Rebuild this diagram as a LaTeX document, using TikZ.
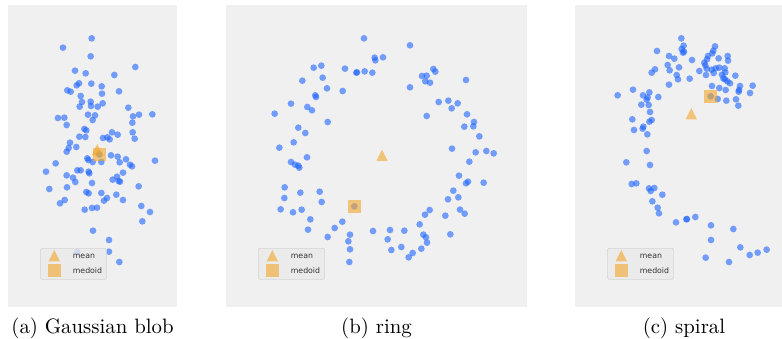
\documentclass[tikz,border=0pt]{standalone}
\usepackage{fontspec}
\newfontfamily\legfont{DejaVu Sans}
\definecolor{bg}{RGB}{240,240,240}
\definecolor{dotblue}{RGB}{30,100,255}
\definecolor{cenorange}{RGB}{242,165,40}
\definecolor{legfill}{RGB}{234,234,234}
\definecolor{legedge}{RGB}{212,212,212}
\tikzset{
  panelbg/.style={fill=bg},
  dotmark/.style={fill=dotblue, fill opacity=0.6},
  centremark/.style={fill=cenorange, fill opacity=0.6},
  legbox/.style={fill=legfill, fill opacity=0.8, draw=legedge, line width=0.6pt, rounded corners=1.5pt},
  legtext/.style={font=\legfont\fontsize{7.8}{9}\selectfont, text=black!80, anchor=west, inner sep=0pt},
  captext/.style={font=\fontsize{10}{12}\selectfont, scale=2.08, transform shape, anchor=base, inner sep=0pt},
  panelscope/.style={x=0.333333pt, y=-0.333333pt}
}
\newcommand{\drawdots}[1]{%
  \foreach \px/\py in {#1} {\fill[dotmark] (\px,\py) circle (3.35pt);}%
}
\newcommand{\drawcentres}[4]{% mean x,y ; medoid x,y
  \fill[centremark] (#1,#2-17) -- (#1+17,#2+17) -- (#1-17,#2+17) -- cycle;
  \fill[centremark] (#3-20,#4-20) rectangle (#3+20,#4+20);
}
\newcommand{\drawlegend}[2]{% panel left, name prefix
  \path[legbox] (#1+97,745) rectangle (#1+296,838);
  \fill[centremark] (#1+139,750) -- (#1+156,784) -- (#1+122,784) -- cycle;
  \fill[centremark] (#1+120,792) rectangle (#1+159,830);
  \node[legtext] (#2mean) at (#1+194,768) {mean};
  \node[legtext] (#2medoid) at (#1+194,812) {medoid};
}
\begin{document}
\begin{tikzpicture}[x=1pt,y=-1pt]
\useasboundingbox (0,0) rectangle (782,339);
% ---------- panel (a)
\begin{scope}[panelscope]
  \fill[panelbg] (24,15) rectangle (530,922);
  \drawdots{275/115, 189/143, 272/169, 406/201, 225/212, 257/220, 343/225, 237/250, 230/256, 274/251, 305/259, 202/271, 212/275, 357/274, 306/281, 242/288, 246/306, 272/305, 308/310, 239/320, 273/318, 293/320, 385/323, 264/344, 285/346, 278/360, 399/349, 417/344, 457/343, 174/354, 193/353, 200/375, 397/368, 253/387, 259/391, 336/397, 398/397, 238/410, 256/411, 309/414, 322/412, 329/418, 353/404, 404/416, 210/428, 206/444, 200/455, 229/441, 298/463, 262/475, 265/480, 278/486, 304/486, 333/466, 353/470, 359/487, 378/478, 390/494, 396/499, 465/482, 167/490, 138/515, 200/526, 219/533, 226/546, 232/511, 242/511, 266/515, 268/520, 276/549, 338/539, 351/530, 356/543, 360/545, 369/518, 416/559, 148/567, 201/562, 259/576, 266/580, 304/579, 321/594, 312/602, 349/584, 369/600, 180/610, 194/600, 254/629, 276/624, 291/623, 424/618, 450/636, 427/664, 279/692, 327/720, 327/755, 358/786, 232/756}
  \drawcentres{292}{449}{298}{463}
  \drawlegend{24}{a}
\end{scope}
% ---------- panel (b)
\begin{scope}[shift={(220pt,0pt)}, panelscope]
  \fill[panelbg] (18,15) rectangle (920,922);
  \drawdots{432/115, 570/136, 464/173, 466/181, 489/172, 281/203, 304/197, 375/206, 409/218, 411/217, 434/214, 457/218, 640/207, 646/215, 606/228, 620/227, 616/244, 630/248, 247/242, 308/233, 738/240, 321/265, 368/273, 570/262, 286/286, 288/291, 213/311, 262/321, 276/331, 164/341, 656/306, 685/302, 713/310, 695/325, 620/348, 741/343, 323/366, 762/366, 760/379, 733/380, 235/383, 256/399, 778/409, 221/427, 178/443, 261/472, 696/446, 767/457, 799/453, 821/460, 748/485, 213/486, 225/494, 235/497, 238/503, 717/527, 738/550, 744/545, 791/548, 194/562, 241/578, 299/575, 193/594, 305/606, 700/572, 684/598, 715/592, 182/628, 219/637, 245/629, 271/658, 629/630, 615/644, 676/647, 720/629, 734/641, 403/619, 264/689, 344/684, 367/665, 323/711, 390/704, 385/724, 390/748, 388/786, 459/693, 510/690, 553/692, 503/718, 514/750, 544/741, 599/673, 610/704, 618/712, 621/728, 604/746, 578/759, 566/772, 691/703}
  \drawcentres{486}{466}{404}{619}
  \drawlegend{18}{b}
\end{scope}
% ---------- panel (c)
\begin{scope}[shift={(560pt,0pt)}, panelscope]
  \fill[panelbg] (45,15) rectangle (666,922);
  \drawdots{364/115, 371/137, 365/147, 369/158, 372/155, 291/153, 327/168, 343/176, 396/180, 465/139, 460/152, 457/160, 444/168, 441/178, 433/188, 436/196, 440/206, 438/225, 455/209, 467/205, 461/219, 476/175, 503/168, 504/182, 478/203, 494/205, 496/217, 490/235, 495/238, 502/244, 510/250, 486/224, 526/227, 456/258, 478/264, 497/270, 540/258, 537/270, 536/275, 578/257, 570/279, 528/298, 535/317, 499/302, 473/297, 452/289, 285/208, 275/218, 323/195, 329/211, 357/202, 350/225, 354/238, 389/236, 418/213, 327/254, 173/286, 219/269, 268/277, 263/292, 249/286, 260/299, 295/291, 244/314, 266/315, 270/336, 217/358, 275/360, 268/365, 250/380, 248/386, 222/390, 262/403, 260/453, 199/487, 270/495, 215/552, 229/550, 267/565, 283/564, 272/573, 307/584, 277/604, 293/623, 297/640, 348/667, 379/658, 381/657, 406/651, 453/676, 520/687, 453/720, 541/742, 569/765, 593/758, 620/749, 437/773, 507/786}
  \drawcentres{394}{341}{451}{289}
  \drawlegend{45}{c}
\end{scope}
% ---------- captions
\node[captext] (capa) at (92.5,333) {(a) Gaussian blob};
\node[captext] (capb) at (376.5,333) {(b) ring};
\node[captext] (capc) at (684,333) {(c) spiral};
\end{tikzpicture}
\end{document}
